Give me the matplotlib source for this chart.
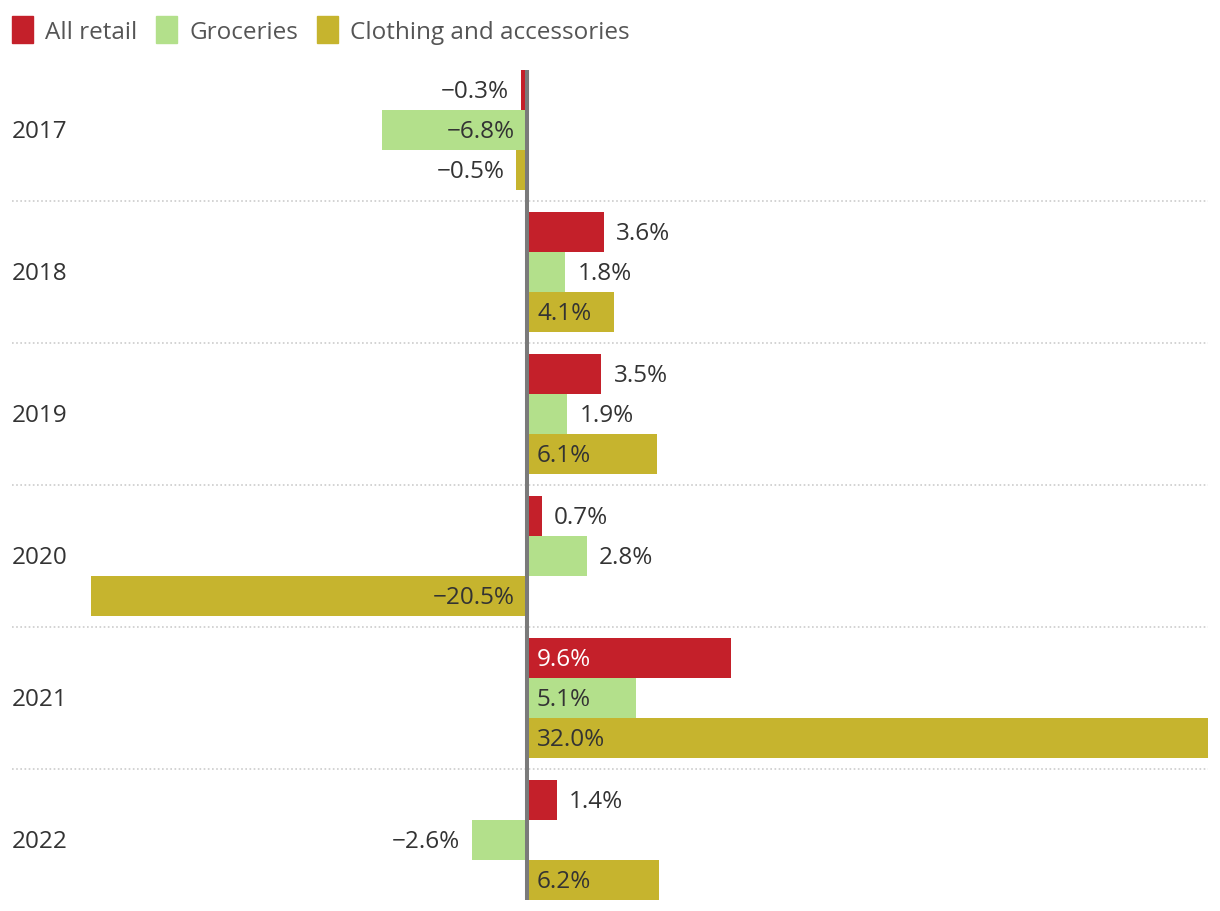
import matplotlib.pyplot as plt
import numpy as np
from matplotlib.patches import Rectangle

plt.rcParams['font.family'] = ['Open Sans', 'DejaVu Sans']

# データ
years = ['2017', '2018', '2019', '2020', '2021', '2022']
series = ['All retail', 'Groceries', 'Clothing and accessories']
all_retail = [-0.3, 3.6, 3.5, 0.7, 9.6, 1.4]
groceries = [-6.8, 1.8, 1.9, 2.8, 5.1, -2.6]
clothing = [-0.5, 4.1, 6.1, -20.5, 32.0, 6.2]
colors = ['#c4202a', '#b3e08b', '#c6b42e']

values = [all_retail, groceries, clothing]
FS = 17.5

W, H = 1220, 912
fig = plt.figure(figsize=(W / 100, H / 100), dpi=100)
ax = fig.add_axes([12 / W, 1 - 901 / H, (1208 - 12) / W, (901 - 71) / H])

bh = 40 / 142
y = np.arange(len(years))
scale = (1208 - 527) / 32.0  # px per %
ax.set_xlim(-(527 - 12) / scale, 32.0)
ax.set_ylim((900 - 130) / 142, -(130 - 70) / 142)

px = 1 / scale  # 1ピクセル分
dy = 1.5 / 142  # 文字を少し下げる

for k, (vals, c) in enumerate(zip(values, colors)):
    yy = y + (k - 1) * bh
    ax.barh(yy, vals, height=bh, color=c, linewidth=0)
    for yi, v in zip(yy, vals):
        txt = f'{v:.1f}%'.replace('-', '\u2212')
        inside = abs(v) >= 4
        tc = 'white' if (inside and k == 0) else '#333333'
        if v >= 0:
            xpos = 10 * px if inside else v + 12 * px
            ax.text(xpos, yi + dy, txt, ha='left', va='center', color=tc, fontsize=FS)
        else:
            xpos = -12 * px if inside else v - 12 * px
            ax.text(xpos, yi + dy, txt, ha='right', va='center', color=tc, fontsize=FS)

# 区切り線
for i in range(len(years) - 1):
    ax.axhline(i + 0.5, color='#cccccc', linestyle=(0, (1, 1.5)), linewidth=1.2, zorder=0)

ax.axvline(0, color='#7a7a7a', linewidth=2.9, zorder=5)

# 年ラベル
for i, yr in enumerate(years):
    ax.text(0, i + dy, yr, transform=ax.get_yaxis_transform(), ha='left', va='center',
            color='#333333', fontsize=FS)

ax.axis('off')

# 凡例
lx = 12
for name, c in zip(series, colors):
    fig.patches.append(Rectangle((lx / W, 1 - 44 / H), 21 / W, 27 / H, color=c,
                                 transform=fig.transFigure, figure=fig))
    t = fig.text((lx + 33) / W, 1 - 33 / H, name, ha='left', va='center',
                 color='#555555', fontsize=FS)
    fig.canvas.draw()
    bb = t.get_window_extent()
    lx = bb.x1 + 19

fig.savefig('out.png', dpi=100)
